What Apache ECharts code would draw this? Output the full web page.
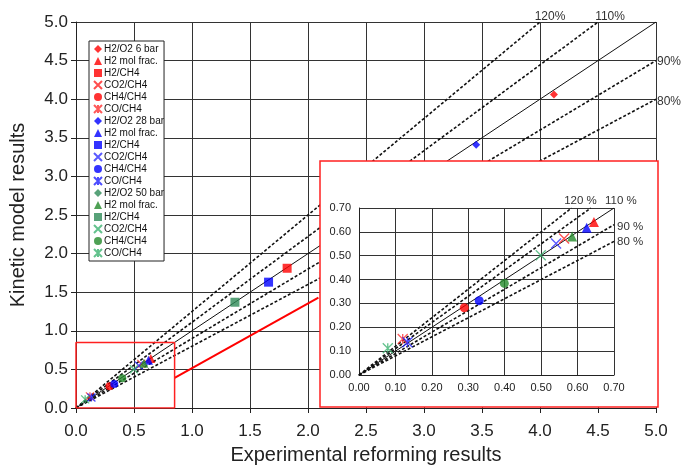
<!DOCTYPE html>
<html>
<head>
<meta charset="utf-8">
<script src="https://cdn.jsdelivr.net/npm/echarts@6/dist/echarts.min.js"></script>
<style>html,body{margin:0;padding:0;background:#fff}#c{width:681px;height:466px}</style>
</head>
<body>
<div id="c"></div>
<script>
// ---- data ----
const mainTicks = [0, 0.5, 1, 1.5, 2, 2.5, 3, 3.5, 4, 4.5, 5];
const insetTicks = [0, 0.1, 0.2, 0.3, 0.4, 0.5, 0.6, 0.7];
const pressures = ['6 bar', '28 bar', '50 bar'];
const ratioNames = ['H2/O2', 'H2 mol frac.', 'H2/CH4', 'CO2/CH4', 'CH4/CH4', 'CO/CH4'];
// experimental (x) and kinetic model (y) results, order follows ratioNames
const exp6  = [4.12, 0.645, 1.82, 0.563, 0.289, 0.120];
const mod6  = [4.06, 0.641, 1.81, 0.572, 0.282, 0.151];
const exp28 = [3.45, 0.625, 1.66, 0.541, 0.330, 0.133];
const mod28 = [3.41, 0.617, 1.63, 0.551, 0.311, 0.137];
const exp50 = [2.85, 0.585, 1.37, 0.499, 0.399, 0.079];
const mod50 = [2.89, 0.581, 1.37, 0.502, 0.384, 0.112];
// reference lines: label, slope (main), slope (inset)
const refLabels = ['120%', '110%', '', '90%', '80%'];
const refMainSlopes = [1.25, 1.111, 1.0, 0.9, 0.8];
const refInsetSlopes = [1.2, 1.1, 1.0, 0.9, 0.8];
const zoomBox = [0.85, 0.85];
const arrowFrom = [0.85, 0.39];
const arrowTo = [2.09, 1.43];

// ---- styles ----
const FONT = '"Liberation Sans", Arial, sans-serif';
const groupColors = [
  ['#ff0000', '#ff0000', '#ff0000', '#ff2020', '#ff0000', '#ff3030'],
  ['#0000ff', '#0000ff', '#0000ff', '#3030ff', '#0000ff', '#2020ff'],
  ['#2e8b57', '#238a2a', '#2e8b57', '#3cb371', '#238a2a', '#3cb371']
];
const DIAMOND = 'path://M5,0L10,5L5,10L0,5Z';
const X_PATH = 'path://M0,0L10,10M10,0L0,10';
const STAR_PATH = 'path://M0,0L10,10M10,0L0,10M5,0L5,10';
const symbols = [DIAMOND, 'triangle', 'rect', X_PATH, 'circle', STAR_PATH];
const sizesMain = [8, 9, 9, 8, 8, 8];
const sizesInset = [9, 10, 9, 10, 9, 10];
const strokeOnly = [false, false, false, true, false, true];
const mainLabelOffsets = [[10, 3], [12, 3], null, [-2, 1], [-2, 2]];
const insetLabelOffsets = [[9, 1], [30, 1], null, [0, 2], [0, 0]];

const expAll = [exp6, exp28, exp50];
const modAll = [mod6, mod28, mod50];

const series = [];
const legendNames = [];
const legendText = {};

for (let g = 0; g < 3; g++) {
  for (let i = 0; i < 6; i++) {
    const id = pressures[g] + '|' + ratioNames[i];
    legendNames.push(id);
    legendText[id] = i === 0 ? ratioNames[i] + ' ' + pressures[g] : ratioNames[i];
    const c = groupColors[g][i];
    const st = strokeOnly[i]
      ? { color: 'rgba(0,0,0,0)', borderColor: c, borderWidth: 1.3 }
      : { color: c, borderWidth: 0 };
    const pt = [expAll[g][i], modAll[g][i]];
    series.push({
      type: 'scatter', name: id, xAxisIndex: 0, yAxisIndex: 0,
      symbol: symbols[i], symbolSize: sizesMain[i], itemStyle: st,
      data: [pt], z: 4, silent: true
    });
    if (pt[0] <= 0.7 && pt[1] <= 0.7) {
      series.push({
        type: 'scatter', name: id, xAxisIndex: 1, yAxisIndex: 1,
        symbol: symbols[i], symbolSize: sizesInset[i], itemStyle: st,
        data: [pt], zlevel: 1, z: 6, silent: true
      });
    }
  }
}

// reference lines
function refLine(slopes, maxV, axisIdx, isInset) {
  slopes.forEach((s, k) => {
    const end = s >= 1 ? [maxV / s, maxV] : [maxV, maxV * s];
    const dashed = s !== 1;
    const lbl = refLabels[k];
    const s2 = {
      type: 'line', xAxisIndex: axisIdx, yAxisIndex: axisIdx,
      data: [[0, 0], end], symbol: 'none', silent: true,
      lineStyle: { color: '#111', width: dashed ? 1.6 : 1, type: dashed ? [3, 2] : 'solid' },
      z: 3
    };
    if (isInset) { s2.zlevel = 1; s2.z = 5; }
    if (lbl) {
      const top = s >= 1;
      s2.markPoint = {
        symbol: 'circle', symbolSize: 0, silent: true,
        zlevel: isInset ? 1 : 0, z: 10,
        data: [{ coord: end }],
        label: {
          show: true,
          formatter: isInset ? lbl.replace('%', ' %') : lbl,
          position: top ? 'top' : 'right',
          distance: top ? 2 : 3,
          offset: (isInset ? insetLabelOffsets : mainLabelOffsets)[k],
          color: '#333', fontFamily: FONT, fontSize: isInset ? 11.5 : 12
        }
      };
    }
    series.push(s2);
  });
}
refLine(refMainSlopes, 5, 0, false);
refLine(refInsetSlopes, 0.7, 1, true);

// zoom box in main plot with arrow
series.push({
  type: 'line', xAxisIndex: 0, yAxisIndex: 0, symbol: 'none', silent: true,
  data: [[0, 0], [zoomBox[0], 0], [zoomBox[0], zoomBox[1]], [0, zoomBox[1]], [0, 0]],
  lineStyle: { color: '#ff2020', width: 1.5 }, z: 5,
  markLine: {
    silent: true, symbol: ['none', 'arrow'], symbolSize: [0, 9],
    label: { show: false },
    lineStyle: { color: '#ff0000', width: 2, type: 'solid' },
    data: [[{ coord: arrowFrom }, { coord: arrowTo }]]
  }
});

const axisLabelStyle = { color: '#222', fontFamily: FONT };
const chart = echarts.init(document.getElementById('c'), null, { renderer: 'canvas' });
chart.setOption({
  animation: false,
  backgroundColor: '#fff',
  textStyle: { fontFamily: FONT },
  grid: [
    { left: 76, right: 25, top: 22, bottom: 58, outerBoundsMode: 'none', containLabel: false },
    { left: 359, right: 67, top: 208, bottom: 91, outerBoundsMode: 'none', containLabel: false }
  ],
  graphic: [{
    type: 'rect', zlevel: 1, z: 0, silent: true,
    shape: { x: 320, y: 161, width: 338, height: 246 },
    style: { fill: '#fff', stroke: '#ff2020', lineWidth: 1.5 }
  }],
  xAxis: [
    {
      type: 'value', gridIndex: 0, min: mainTicks[0], max: mainTicks[mainTicks.length - 1], interval: 0.5,
      name: 'Experimental reforming results', nameLocation: 'middle', nameGap: 37,
      nameTextStyle: { fontSize: 20, color: '#222', fontFamily: FONT },
      axisLine: { show: true, lineStyle: { color: '#222', width: 1 } },
      axisTick: { show: true, length: 5, lineStyle: { color: '#222' } },
      axisLabel: Object.assign({ fontSize: 17, margin: 15, formatter: v => v.toFixed(1) }, axisLabelStyle),
      splitLine: { show: true, lineStyle: { color: '#333', width: 1 } }
    },
    {
      type: 'value', gridIndex: 1, min: insetTicks[0], max: insetTicks[insetTicks.length - 1], interval: 0.1,
      zlevel: 1, z: 2,
      axisLine: { show: true, lineStyle: { color: '#222', width: 1 } },
      axisTick: { show: false },
      axisLabel: Object.assign({ fontSize: 11, margin: 7, formatter: v => v.toFixed(2) }, axisLabelStyle),
      splitLine: { show: true, lineStyle: { color: '#333', width: 1 } }
    }
  ],
  yAxis: [
    {
      type: 'value', gridIndex: 0, min: mainTicks[0], max: mainTicks[mainTicks.length - 1], interval: 0.5,
      name: 'Kinetic model results', nameLocation: 'middle', nameGap: 48,
      nameTextStyle: { fontSize: 20, color: '#222', fontFamily: FONT },
      axisLine: { show: true, lineStyle: { color: '#222', width: 1 } },
      axisTick: { show: true, length: 5, lineStyle: { color: '#222' } },
      axisLabel: Object.assign({ fontSize: 17, margin: 8, formatter: v => v.toFixed(1) }, axisLabelStyle),
      splitLine: { show: true, lineStyle: { color: '#333', width: 1 } }
    },
    {
      type: 'value', gridIndex: 1, min: insetTicks[0], max: insetTicks[insetTicks.length - 1], interval: 0.1,
      zlevel: 1, z: 2,
      axisLine: { show: true, lineStyle: { color: '#222', width: 1 } },
      axisTick: { show: false },
      axisLabel: Object.assign({ fontSize: 11, margin: 8, formatter: v => v.toFixed(2) }, axisLabelStyle),
      splitLine: { show: true, lineStyle: { color: '#333', width: 1 } }
    }
  ],
  legend: {
    data: legendNames,
    orient: 'vertical', left: 89, top: 41,
    width: 86,
    backgroundColor: '#fff', borderColor: '#222', borderWidth: 1,
    padding: [3, 0, 3, 4],
    itemWidth: 8, itemHeight: 8, itemGap: 2,
    selectedMode: false,
    formatter: n => legendText[n],
    textStyle: { fontSize: 10, lineHeight: 10, color: '#111', fontFamily: FONT, padding: [0, 0, 0, -3] },
    z: 8
  },
  series: series
});
</script>
</body>
</html>
